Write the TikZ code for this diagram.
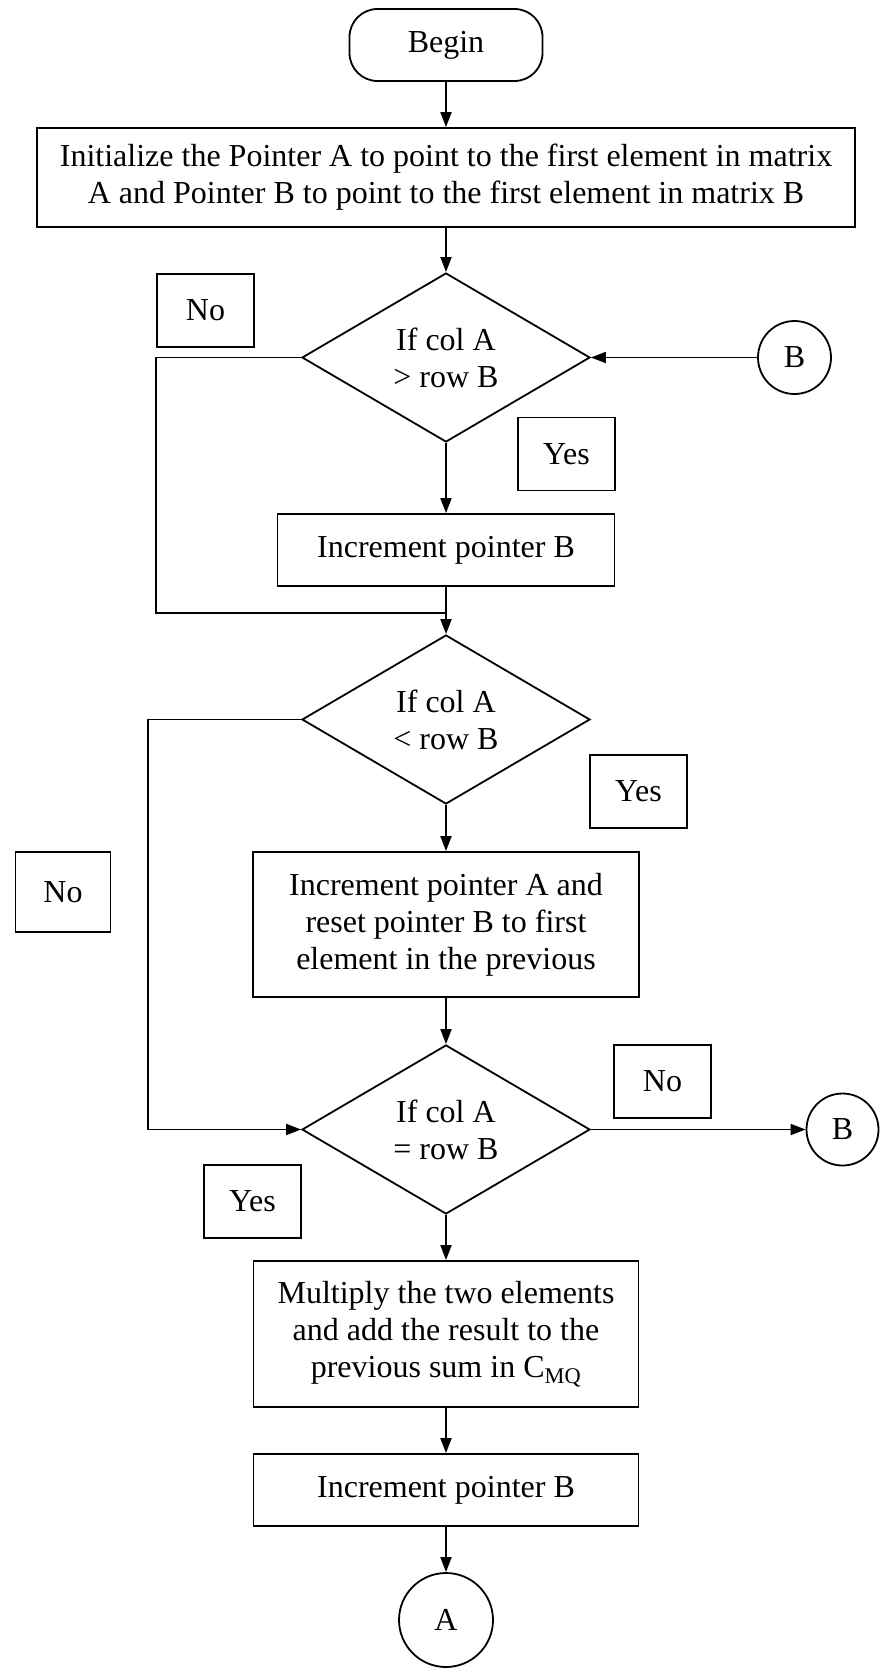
\documentclass[tikz,border=0pt]{standalone}
\usepackage{fontspec}
\setmainfont{Liberation Serif}
\usetikzlibrary{shapes.geometric,arrows.meta}
\begin{document}
\begin{tikzpicture}[x=1pt,y=-1pt,
  every node/.style={font=\fontsize{32}{37}\selectfont, align=center, line width=1.8pt},
  box/.style={draw, rectangle, inner sep=0pt, minimum width=#1},
  term/.style={draw, rectangle, rounded corners=28pt, minimum width=193pt, minimum height=72pt, inner sep=0pt},
  dec/.style={draw, diamond, aspect=1.7, minimum width=288pt, minimum height=169pt, inner sep=0pt},
  lab/.style={draw, rectangle, minimum width=97pt, minimum height=73pt, inner sep=0pt},
  conn/.style={draw, circle, minimum size=#1, inner sep=0pt},
  arr/.style={line width=1.8pt, -{Triangle[length=15pt,width=11pt]}},
  ln/.style={line width=1.8pt}]
\useasboundingbox (0,0) rectangle (881,1668);
\node[term] (begin) at (446,45) {Begin};
\node[box=818pt, minimum height=99pt] (init) at (446,177.5) {Initialize the Pointer A to point to the first element in matrix\\A and Pointer B to point to the first element in matrix B};
\node[dec] (d1) at (446,357.5) {If col A\\\textgreater{} row B};
\node[lab] (no1) at (205.5,310.5) {No};
\node[conn=73pt] (b1) at (794.5,357.5) {B};
\node[lab] (yes1) at (566.5,454) {Yes};
\node[box=337pt, minimum height=72pt] (inc1) at (446,550) {Increment pointer B};
\node[dec] (d2) at (446,719.5) {If col A\\\textless{} row B};
\node[lab] (yes2) at (638.5,791.5) {Yes};
\node[lab, minimum width=95pt, minimum height=80pt] (no2) at (63,892) {No};
\node[box=386pt, minimum height=145pt] (inca) at (446,924.5) {Increment pointer A and\\reset pointer B to first\\element in the previous};
\node[dec] (d3) at (446,1129.5) {If col A\\= row B};
\node[lab] (no3) at (662.5,1081.5) {No};
\node[conn=72pt] (b2) at (842.5,1129.5) {B};
\node[lab] (yes3) at (252.5,1201.5) {Yes};
\node[box=385pt, minimum height=146pt] (mult) at (446,1334) {Multiply the two elements\\and add the result to the\\previous sum in C\textsubscript{MQ}};
\node[box=385pt, minimum height=72pt] (inc2) at (446,1490) {Increment pointer B};
\node[conn=94pt] (a) at (446,1620) {A};
\coordinate (l1) at (156,613);
\coordinate (j1) at (446,613);
\coordinate (l2) at (148,1129.5);
\draw[arr] (begin) -- (init);
\draw[arr] (init) -- (d1);
\draw[arr] (b1) -- (d1.east);
\draw[arr] (d1) -- (inc1);
\draw[ln] (d1.west) -| (l1) -- (j1);
\draw[arr] (inc1) -- (d2);
\draw[arr] (d2) -- (inca);
\draw[arr] (d2.west) -| (l2) -- (d3.west);
\draw[arr] (inca) -- (d3);
\draw[arr] (d3.east) -- (b2);
\draw[arr] (d3) -- (mult);
\draw[arr] (mult) -- (inc2);
\draw[arr] (inc2) -- (a);
\end{tikzpicture}
\end{document}
